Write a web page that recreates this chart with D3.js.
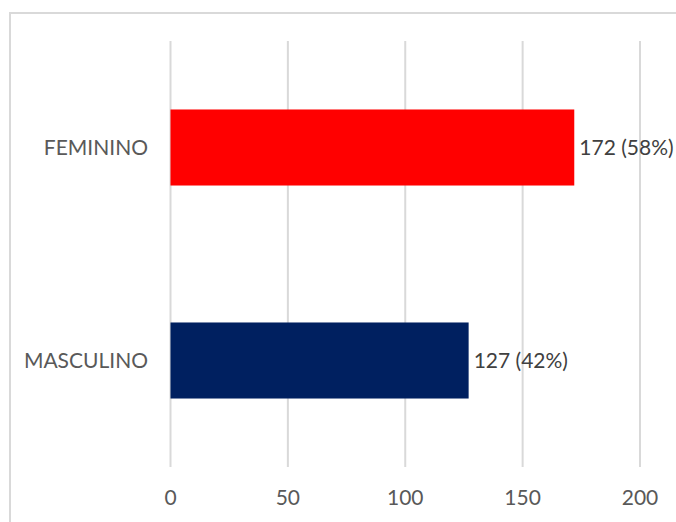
<!DOCTYPE html>
<html>
<head>
<meta charset="utf-8">
<script src="https://cdn.jsdelivr.net/npm/d3@7"></script>
<style>
  body { margin: 0; background: #fff; }
  svg { display: block; }
</style>
</head>
<body>
<div id="main-container"></div>
<script>
var categories = ["FEMININO", "MASCULINO"];
var values = [172, 127];
var percents = ["58%", "42%"];
var barColors = ["#FF0000", "#002060"];
var tickValues = [0, 50, 100, 150, 200];

var width = 676, height = 522;
var plotLeft = 170.5, plotRight = 640, plotTop = 41, plotBottom = 467;

var svg = d3.select("#main-container")
    .append("svg")
    .attr("width", width)
    .attr("height", height);

// chart frame (cropped on right and bottom)
svg.append("path")
    .attr("d", "M10,522 V13 H676")
    .attr("fill", "none")
    .attr("stroke", "#D9D9D9")
    .attr("stroke-width", 2);

var x = d3.scaleLinear().domain([0, 200]).range([plotLeft, plotRight]);
var y = d3.scaleBand().domain(categories).range([plotTop, plotBottom])
    .paddingInner(0.643).paddingOuter(0.3215);

// gridlines
svg.selectAll("line.grid")
    .data(tickValues)
    .enter()
    .append("line")
    .attr("class", "grid")
    .attr("x1", function(d) { return x(d); })
    .attr("x2", function(d) { return x(d); })
    .attr("y1", plotTop)
    .attr("y2", plotBottom)
    .attr("stroke", "#D9D9D9")
    .attr("stroke-width", 2);

// x tick labels
svg.selectAll("text.tick")
    .data(tickValues)
    .enter()
    .append("text")
    .attr("class", "tick")
    .text(function(d) { return d; })
    .attr("x", function(d) { return x(d); })
    .attr("y", 505)
    .attr("text-anchor", "middle")
    .attr("font-family", "Lato, 'Open Sans', sans-serif")
    .attr("font-size", "21px")
    .attr("fill", "#595959");

// bars
svg.selectAll("rect.bar")
    .data(values)
    .enter()
    .append("rect")
    .attr("class", "bar")
    .attr("x", x(0))
    .attr("y", function(d, i) { return y(categories[i]); })
    .attr("width", function(d) { return x(d) - x(0); })
    .attr("height", y.bandwidth())
    .attr("fill", function(d, i) { return barColors[i]; });

// category labels
svg.selectAll("text.cat")
    .data(categories)
    .enter()
    .append("text")
    .attr("class", "cat")
    .text(function(d) { return d; })
    .attr("x", 148)
    .attr("y", function(d) { return y(d) + y.bandwidth() / 2; })
    .attr("dy", "0.35em")
    .attr("text-anchor", "end")
    .attr("font-family", "Lato, 'Open Sans', sans-serif")
    .attr("font-size", "21px")
    .attr("fill", "#595959");

// value labels
svg.selectAll("text.val")
    .data(values)
    .enter()
    .append("text")
    .attr("class", "val")
    .text(function(d, i) { return d + " (" + percents[i] + ")"; })
    .attr("x", function(d) { return x(d) + 5; })
    .attr("y", function(d, i) { return y(categories[i]) + y.bandwidth() / 2; })
    .attr("dy", "0.35em")
    .attr("font-family", "Lato, 'Open Sans', sans-serif")
    .attr("font-size", "21px")
    .attr("fill", "#404040");
</script>
</body>
</html>
